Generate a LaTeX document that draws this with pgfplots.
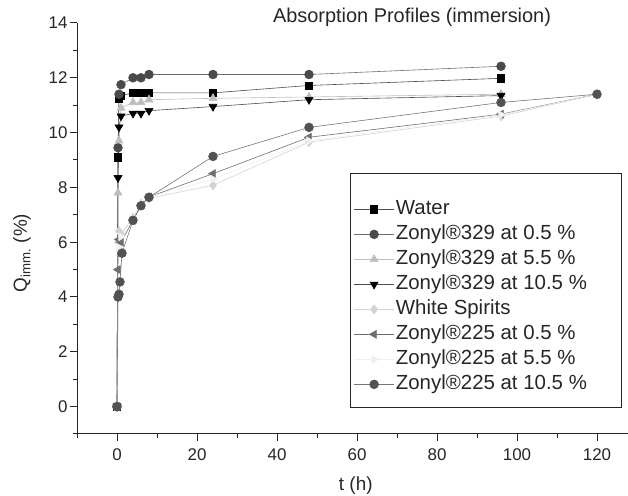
\documentclass[border=0pt]{standalone}
\usepackage{pgfplots}
\pgfplotsset{compat=1.18}
\usepackage{fontspec}
\setmainfont{Liberation Sans}
\definecolor{cWater}{HTML}{000000}
\definecolor{cA}{HTML}{4A4A4A}
\definecolor{cB}{HTML}{BDBDBD}
\definecolor{cC}{HTML}{000000}
\definecolor{cWS}{HTML}{D2D2D2}
\definecolor{cD}{HTML}{6E6E6E}
\definecolor{cE}{HTML}{F0F0F0}
\definecolor{cF}{HTML}{525252}
\begin{document}
\begin{tikzpicture}[x=1bp,y=1bp]
\path[use as bounding box] (0,0) rectangle (628,496);
\begin{axis}[
  at={(77bp,62bp)}, anchor=south west,
  scale only axis, width=551bp, height=411bp,
  xmin=-10, xmax=127.75, ymin=-1, ymax=14,
  axis x line*=bottom, axis y line*=left,
  axis line style={-, line width=1bp, black!85},
  xtick={0,20,...,120}, ytick={0,2,...,14},
  minor xtick={-10,10,30,50,70,90,110}, minor ytick={-1,1,...,13},
  tick align=outside, major tick length=7bp, minor tick length=4bp,
  every tick/.style={line width=1bp, black!85},
  ticklabel style={font=\fontsize{17}{20}\selectfont, black!85},
  xticklabel style={yshift=-4bp},
  yticklabel style={xshift=1bp},
  /pgf/number format/assume math mode=true,
  title={Absorption Profiles (immersion)},
  title style={at={(axis description cs:0.608,1)}, anchor=center, font=\fontsize{20}{24}\selectfont, black!85},
  xlabel={t (h)},
  ylabel={Q\textsubscript{imm.} (\%)},
  every axis x label/.style={at={(axis description cs:0.506,-0.125)}, anchor=center, font=\fontsize{19}{23}\selectfont, black!85},
  every axis y label/.style={at={(axis description cs:-0.10,0.44)}, anchor=center, rotate=90, font=\fontsize{19}{23}\selectfont, black!85},
  legend style={draw=none, fill=none, at={(axis description cs:0.502,0.575)}, anchor=north west,
    font=\fontsize{20.5}{24}\selectfont, row sep=2bp, inner sep=0pt,
    nodes={inner sep=1.5bp, text height=15bp, text depth=5bp, text=black!85}},
  legend cell align=left,
  legend image code/.code={\draw[mark repeat=2,mark phase=2,#1] plot coordinates {(0bp,0bp) (20bp,0bp) (40bp,0bp)};},
  every axis plot/.append style={line width=0.6bp},
]
% Water
\addplot[color=black!70, mark=square*, mark size=3.6bp, mark options={draw=cWater, fill=cWater}] coordinates {
(0,0) (0.25,9.1) (0.5,11.25) (1,11.35) (4,11.45) (6,11.45) (8,11.45) (24,11.45) (48,11.72) (96,11.98)};
\addlegendentry{Water}
% Zonyl 329 0.5
\addplot[color=cA!80, mark=*, mark size=4.4bp, mark options={draw=cA, fill=cA}] coordinates {
(0,0) (0.25,9.45) (0.5,11.4) (1,11.75) (4,12.0) (6,12.0) (8,12.12) (24,12.12) (48,12.12) (96,12.42)};
\addlegendentry{Zonyl®329 at 0.5 \%}
% Zonyl 329 5.5
\addplot[color=cB, mark=triangle*, mark size=4.6bp, mark options={draw=cB, fill=cB}] coordinates {
(0,0) (0.25,7.8) (0.5,9.7) (1,10.9) (4,11.1) (6,11.1) (8,11.2) (24,11.25) (48,11.3) (96,11.4)};
\addlegendentry{Zonyl®329 at 5.5 \%}
% Zonyl 329 10.5
\addplot[color=black!70, mark=triangle*, mark size=4.6bp, mark options={draw=cC, fill=cC, rotate=180}] coordinates {
(0,0) (0.25,8.35) (0.5,10.2) (1,10.6) (4,10.7) (6,10.7) (8,10.8) (24,10.95) (48,11.2) (96,11.35)};
\addlegendentry{Zonyl®329 at 10.5 \%}
% White spirits
\addplot[color=cWS, mark=diamond*, mark size=4.6bp, mark options={draw=cWS, fill=cWS}] coordinates {
(0,0) (0.25,6.0) (0.5,6.4) (1,6.3) (4,6.9) (6,7.4) (8,7.6) (24,8.08) (48,9.65) (96,10.6) (120,11.4)};
\addlegendentry{White Spirits}
% Zonyl 225 0.5
\addplot[color=cD, mark=triangle*, mark size=4.6bp, mark options={draw=cD, fill=cD, rotate=90}] coordinates {
(0,0) (0.25,5.0) (0.5,6.1) (1,6.0) (4,6.8) (6,7.35) (8,7.65) (24,8.5) (48,9.83) (96,10.67) (120,11.4)};
\addlegendentry{Zonyl®225 at 0.5 \%}
% Zonyl 225 5.5
\addplot[color=cE, mark=triangle*, mark size=4.6bp, mark options={draw=cE, fill=cE, rotate=-90}] coordinates {
(0,0) (0.5,5.8) (1,6.2) (4,6.9) (6,7.4) (8,7.65) (24,8.3) (48,9.7) (96,10.65) (120,11.4)};
\addlegendentry{Zonyl®225 at 5.5 \%}
% Zonyl 225 10.5
\addplot[color=cF!80, mark=*, mark size=4.4bp, mark options={draw=cF, fill=cF}] coordinates {
(0,0) (0.25,4.0) (0.5,4.1) (0.75,4.55) (1.25,5.6) (4,6.8) (6,7.33) (8,7.64) (24,9.13) (48,10.19) (96,11.1) (120,11.4)};
\addlegendentry{Zonyl®225 at 10.5 \%}
\draw[line width=1bp, black!85] (axis description cs:0.4955,0.0633) rectangle (axis description cs:0.989,0.635);
\end{axis}
\end{tikzpicture}
\end{document}
